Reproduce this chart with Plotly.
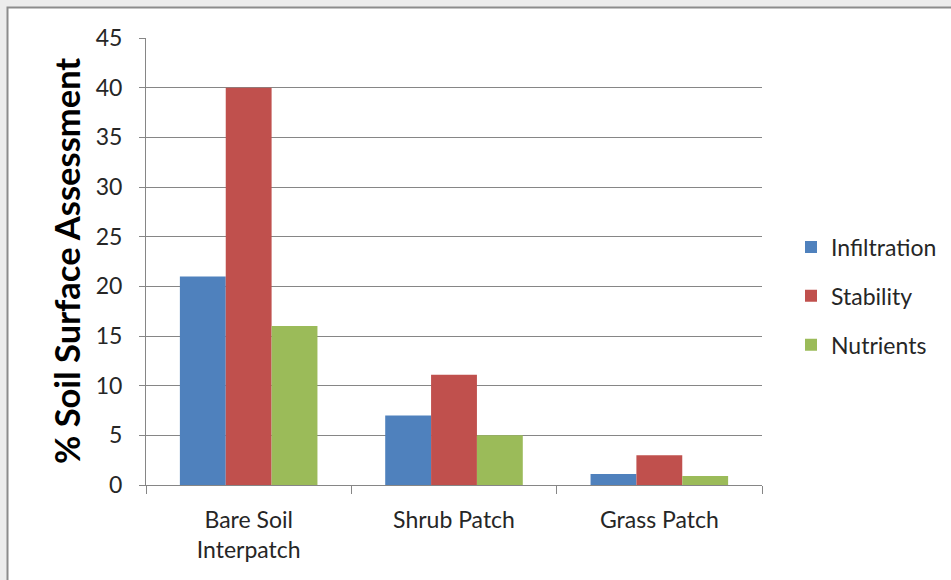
import plotly.graph_objects as go

categories = ["Bare Soil<br>Interpatch", "Shrub Patch", "Grass Patch"]
series_names = ["Infiltration", "Stability", "Nutrients"]
infiltration = [21, 7, 1.1]
stability = [40, 11.1, 3]
nutrients = [16, 5, 0.9]
colors = ["#4f81bd", "#c0504d", "#9bbb59"]
y_ticks = [0, 5, 10, 15, 20, 25, 30, 35, 40, 45]

font = "Lato, 'Open Sans', sans-serif"
fig = go.Figure()
for i, (name, vals) in enumerate(zip(series_names, [infiltration, stability, nutrients])):
    fig.add_trace(go.Bar(x=categories, y=vals, name=name, marker_color=colors[i],
                         marker_line_width=0, legendgroup=name))

W, H = 951, 580
ml, mr, mt, mb = 146, 189, 38, 95
pw, ph = W - ml - mr, H - mt - mb
fig.add_shape(type="rect", xref="paper", yref="paper",
              x0=(7.5 - ml) / pw, x1=(1200 - ml) / pw,
              y0=(H - mb - 900) / ph, y1=(H - mb - 7.5) / ph,
              fillcolor="white", line=dict(color="#8c8c8c", width=2), layer="below")

fig.add_annotation(text="<b>% Soil Surface Assessment</b>", xref="paper", yref="paper",
                   x=(66 - ml) / pw, y=(H - mb - 261) / ph, textangle=-90,
                   showarrow=False, xanchor="center", yanchor="middle",
                   font=dict(size=34.5, color="#000000", family=font))

fig.update_layout(
    width=W, height=H,
    margin=dict(l=ml, r=mr, t=mt, b=mb, pad=0, autoexpand=False),
    paper_bgcolor="#ececec", plot_bgcolor="white",
    barmode="group", bargap=0.33, bargroupgap=0,
    font=dict(family=font, size=23, color="#262626"),
    legend=dict(x=(791 - ml) / pw, y=(H - mb - 296) / ph, xanchor="left", yanchor="middle",
                traceorder="grouped", tracegroupgap=16,
                font=dict(size=23, color="#262626"), bgcolor="rgba(0,0,0,0)"),
    showlegend=True,
)
fig.update_xaxes(showgrid=False, showline=True, linecolor="#868686", linewidth=1,
                 ticks="outside", tickson="boundaries", ticklen=8, tickcolor="#868686",
                 ticklabelstandoff=14,
                 tickfont=dict(size=23, color="#262626"))
fig.update_yaxes(range=[0, 45], tickvals=y_ticks, showgrid=True, gridcolor="#868686",
                 gridwidth=1, showline=True, linecolor="#868686", zeroline=False,
                 ticks="outside", ticklen=6, tickcolor="#868686",
                 ticklabelstandoff=12,
                 tickfont=dict(size=23, color="#262626"))

fig.write_html("out.html", config={"displayModeBar": False},
               post_script="document.body.style.margin='0';document.body.style.background='#ececec';")
